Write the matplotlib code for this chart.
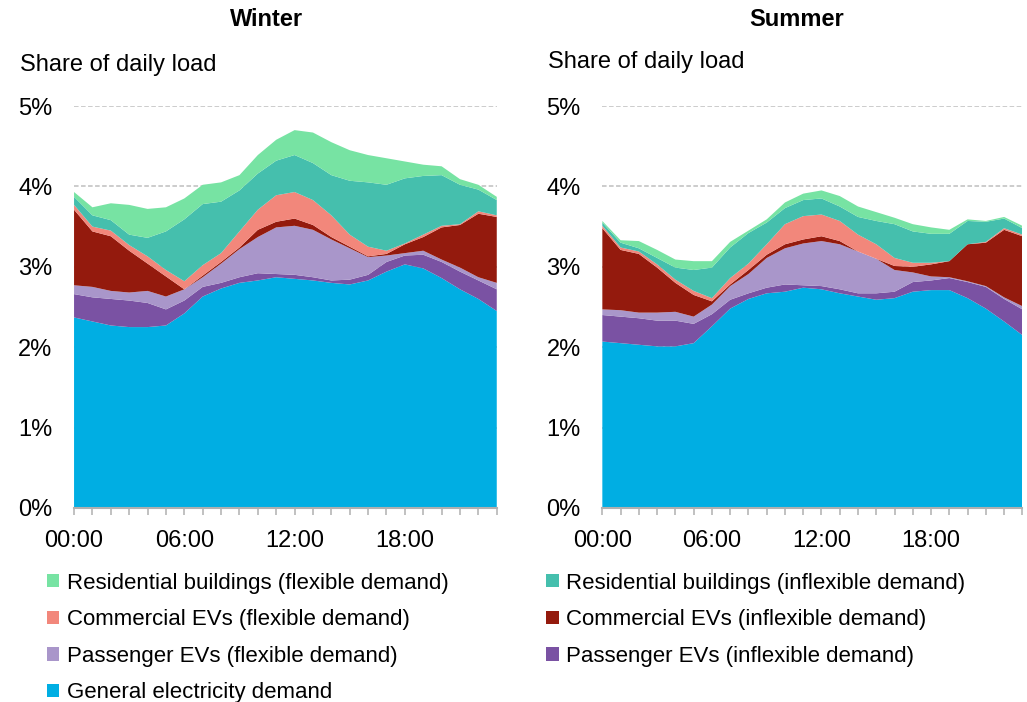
import matplotlib
matplotlib.use("Agg")
import matplotlib.pyplot as plt
import matplotlib.ticker as ticker
from matplotlib.patches import Patch

plt.rcParams['font.family'] = ['Liberation Sans', 'DejaVu Sans']

hours = list(range(24))
hour_labels = ["00:00", "06:00", "12:00", "18:00"]

# winter profiles, % of daily load per hour
w_general = [2.37, 2.32, 2.27, 2.25, 2.25, 2.27, 2.42, 2.63, 2.73, 2.80, 2.83, 2.87,
             2.85, 2.83, 2.80, 2.78, 2.83, 2.94, 3.03, 2.98, 2.86, 2.72, 2.60, 2.45]
w_pass_inflex = [0.29, 0.30, 0.33, 0.33, 0.30, 0.20, 0.16, 0.12, 0.07, 0.07, 0.09, 0.04,
                 0.05, 0.04, 0.03, 0.06, 0.07, 0.12, 0.11, 0.17, 0.20, 0.22, 0.23, 0.27]
w_pass_flex = [0.11, 0.13, 0.10, 0.10, 0.15, 0.16, 0.14, 0.12, 0.24, 0.35, 0.45, 0.58,
               0.61, 0.59, 0.51, 0.39, 0.22, 0.08, 0.03, 0.05, 0.03, 0.05, 0.04, 0.08]
w_comm_inflex = [0.94, 0.69, 0.68, 0.52, 0.34, 0.25, 0.00, 0.02, 0.02, 0.02, 0.09, 0.07,
                 0.09, 0.06, 0.03, 0.02, 0.01, 0.02, 0.11, 0.17, 0.40, 0.53, 0.79, 0.82]
w_comm_flex = [0.06, 0.06, 0.07, 0.07, 0.09, 0.08, 0.10, 0.13, 0.11, 0.20, 0.25, 0.33,
               0.33, 0.31, 0.27, 0.15, 0.12, 0.04, 0.01, 0.03, 0.02, 0.01, 0.03, 0.02]
w_res_inflex = [0.10, 0.14, 0.13, 0.13, 0.23, 0.48, 0.77, 0.76, 0.64, 0.51, 0.45, 0.43,
                0.46, 0.46, 0.50, 0.67, 0.80, 0.82, 0.81, 0.73, 0.63, 0.49, 0.27, 0.19]
w_res_flex = [0.06, 0.10, 0.21, 0.37, 0.36, 0.30, 0.26, 0.24, 0.24, 0.19, 0.23, 0.26,
              0.31, 0.38, 0.41, 0.38, 0.34, 0.33, 0.21, 0.14, 0.11, 0.07, 0.06, 0.04]

# summer profiles
s_general = [2.07, 2.05, 2.03, 2.01, 2.01, 2.05, 2.26, 2.48, 2.60, 2.67, 2.69, 2.74,
             2.72, 2.67, 2.63, 2.59, 2.61, 2.69, 2.71, 2.71, 2.61, 2.48, 2.32, 2.15]
s_pass_inflex = [0.33, 0.33, 0.33, 0.32, 0.32, 0.24, 0.15, 0.11, 0.07, 0.07, 0.09, 0.03,
                 0.04, 0.05, 0.04, 0.08, 0.08, 0.12, 0.12, 0.15, 0.20, 0.27, 0.28, 0.32]
s_pass_flex = [0.07, 0.08, 0.07, 0.10, 0.11, 0.09, 0.12, 0.17, 0.24, 0.37, 0.45, 0.52,
               0.56, 0.56, 0.52, 0.43, 0.27, 0.12, 0.05, 0.01, 0.01, 0.01, 0.02, 0.04]
s_comm_inflex = [1.01, 0.75, 0.73, 0.56, 0.36, 0.27, 0.04, 0.02, 0.05, 0.04, 0.05, 0.05,
                 0.06, 0.04, 0.00, 0.00, 0.05, 0.07, 0.15, 0.20, 0.46, 0.54, 0.84, 0.87]
s_comm_flex = [0.03, 0.03, 0.03, 0.04, 0.04, 0.05, 0.04, 0.08, 0.08, 0.13, 0.25, 0.29,
               0.27, 0.25, 0.21, 0.18, 0.10, 0.05, 0.02, 0.00, 0.00, 0.01, 0.02, 0.02]
s_res_inflex = [0.04, 0.06, 0.04, 0.08, 0.15, 0.26, 0.38, 0.38, 0.38, 0.27, 0.20, 0.20,
                0.20, 0.18, 0.22, 0.29, 0.42, 0.39, 0.36, 0.34, 0.29, 0.25, 0.12, 0.08]
s_res_flex = [0.02, 0.03, 0.09, 0.10, 0.10, 0.11, 0.08, 0.07, 0.03, 0.04, 0.07, 0.08,
              0.10, 0.13, 0.13, 0.11, 0.08, 0.09, 0.08, 0.05, 0.02, 0.01, 0.02, 0.03]

names = ["General electricity demand",
         "Passenger EVs (inflexible demand)",
         "Passenger EVs (flexible demand)",
         "Commercial EVs (inflexible demand)",
         "Commercial EVs (flexible demand)",
         "Residential buildings (inflexible demand)",
         "Residential buildings (flexible demand)"]
colors = ["#00AEE3", "#7A52A3", "#A996CA", "#941A0D", "#F2877B", "#45BFAD", "#77E3A3"]

winter = [w_general, w_pass_inflex, w_pass_flex, w_comm_inflex, w_comm_flex, w_res_inflex, w_res_flex]
summer = [s_general, s_pass_inflex, s_pass_flex, s_comm_inflex, s_comm_flex, s_res_inflex, s_res_flex]

fig = plt.figure(figsize=(10.27, 7.02), dpi=100)
ax_w = fig.add_axes([0.0721, 0.2764, 0.4116, 0.5726])
ax_s = fig.add_axes([0.5865, 0.2764, 0.4090, 0.5726])

for ax, series in [(ax_w, winter), (ax_s, summer)]:
    ax.stackplot(hours, *series, colors=colors, linewidth=0, zorder=2)
    ax.set_xlim(0, 23)
    ax.set_ylim(0, 5)
    ax.yaxis.set_major_locator(ticker.MultipleLocator(1))
    ax.yaxis.set_major_formatter(ticker.FuncFormatter(lambda v, p: "%d%%" % v))
    ax.xaxis.set_major_locator(ticker.FixedLocator([0, 6, 12, 18]))
    ax.xaxis.set_major_formatter(ticker.FixedFormatter(hour_labels))
    ax.xaxis.set_minor_locator(ticker.MultipleLocator(1))
    ax.grid(axis='y', color='#BFBFBF', linestyle=(0, (3, 1.6)), linewidth=1.1, zorder=1)
    ax.set_axisbelow(True)
    for s in ['top', 'right', 'left']:
        ax.spines[s].set_visible(False)
    ax.spines['bottom'].set_color('#B0B0B0')
    ax.spines['bottom'].set_linewidth(1.5)
    ax.spines['bottom'].set_zorder(3)
    ax.tick_params(axis='y', length=0, pad=15.5, labelsize=17)
    ax.tick_params(axis='x', which='both', length=5, width=1.1, color='#B0B0B0',
                   labelsize=17, pad=11)

fig.text(267 / 1027, 1 - 20 / 702, "Winter", ha='center', va='center', fontsize=17, fontweight='bold')
fig.text(797 / 1027, 1 - 20 / 702, "Summer", ha='center', va='center', fontsize=17, fontweight='bold')
fig.text(20 / 1027, 1 - 65 / 702, "Share of daily load", ha='left', va='center', fontsize=17)
fig.text(548 / 1027, 1 - 62 / 702, "Share of daily load", ha='left', va='center', fontsize=17)

order = [6, 4, 2, 0, 5, 3, 1]
handles = [Patch(facecolor=colors[i], edgecolor='none', label=names[i]) for i in order]
fig.legend(handles=handles, ncol=2, loc='upper left', bbox_to_anchor=(0.037, 0.197),
           frameon=False, fontsize=16, handlelength=0.55, handleheight=0.55,
           handletextpad=0.35, labelspacing=0.7, columnspacing=4.4, borderaxespad=0)

fig.savefig("out.png", dpi=100)
